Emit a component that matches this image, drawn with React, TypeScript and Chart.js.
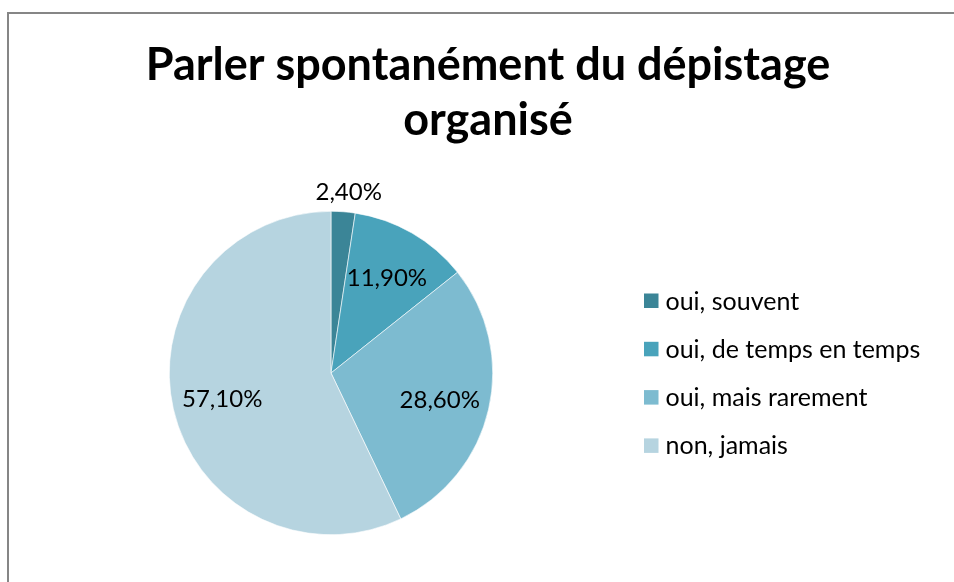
import React, { useEffect, useRef } from "react";
import { Chart, registerables } from "chart.js";

Chart.register(...registerables);

const titleLines = ["Parler spontanément du dépistage", "organisé"];
const categories = ["oui, souvent", "oui, de temps en temps", "oui, mais rarement", "non, jamais"];
const values = [2.4, 11.9, 28.6, 57.1];
const valueLabels = ["2,40%", "11,90%", "28,60%", "57,10%"];
const colors = ["#3B8597", "#49A3BB", "#7DBBD0", "#B6D4E0"];

const FONT = "Lato, 'Open Sans', sans-serif";

const framePlugin = {
  id: "frame",
  beforeDraw(chart: any) {
    const ctx = chart.ctx;
    ctx.save();
    ctx.fillStyle = "#ffffff";
    ctx.fillRect(0, 0, chart.width, chart.height);
    ctx.fillStyle = "#868686";
    ctx.fillRect(7, 12, 2, chart.height - 12);
    ctx.fillRect(7, 12, chart.width - 7, 2);
    ctx.restore();
  },
};

const overlayPlugin = {
  id: "overlay",
  afterDraw(chart: any) {
    const ctx = chart.ctx;
    ctx.save();
    ctx.fillStyle = "#000000";
    ctx.textAlign = "center";
    ctx.textBaseline = "alphabetic";
    ctx.font = `bold 45px ${FONT}`;
    ctx.fillText(titleLines[0], 488, 80);
    ctx.fillText(titleLines[1], 488, 135);

    const meta = chart.getDatasetMeta(0);
    ctx.font = `24px ${FONT}`;
    ctx.textBaseline = "middle";
    meta.data.forEach((arc: any, i: number) => {
      const p = arc.getProps(["x", "y", "startAngle", "endAngle", "outerRadius"], true);
      const mid = (p.startAngle + p.endAngle) / 2;
      const small = values[i] < 5;
      const r = small ? p.outerRadius + 20 : p.outerRadius * 0.69;
      const x = p.x + Math.cos(mid) * r;
      const y = p.y + Math.sin(mid) * r;
      ctx.fillText(valueLabels[i], x + (small ? 4 : 0), y + (small ? 0 : 2));
    });

    ctx.textAlign = "left";
    ctx.font = `25px ${FONT}`;
    categories.forEach((c, i) => {
      const cy = 300.5 + i * 48.3;
      ctx.fillStyle = colors[i];
      ctx.fillRect(644, cy - 7, 14.5, 14.5);
      ctx.fillStyle = "#000000";
      ctx.fillText(c, 665.5, cy + 1);
    });
    ctx.restore();
  },
};

export default function App() {
  const ref = useRef<HTMLCanvasElement>(null);
  useEffect(() => {
    document.body.style.margin = "0";
    document.body.style.overflow = "hidden";
    const chart = new Chart(ref.current!, {
      type: "pie",
      data: {
        labels: categories,
        datasets: [
          {
            data: values,
            backgroundColor: colors,
            borderColor: "#ffffff",
            borderWidth: 0.6,
          },
        ],
      },
      options: {
        animation: false,
        responsive: false,
        maintainAspectRatio: false,
        layout: { padding: { left: 169, right: 461, top: 211, bottom: 47 } },
        plugins: {
          legend: { display: false },
          title: { display: false },
          tooltip: { enabled: false },
        },
      },
      plugins: [framePlugin, overlayPlugin],
    });
    return () => chart.destroy();
  }, []);
  return (
    <div style={{ width: 954, height: 582, overflow: "hidden" }}>
      <canvas ref={ref} width={954} height={582} style={{ display: "block" }} />
    </div>
  );
}
